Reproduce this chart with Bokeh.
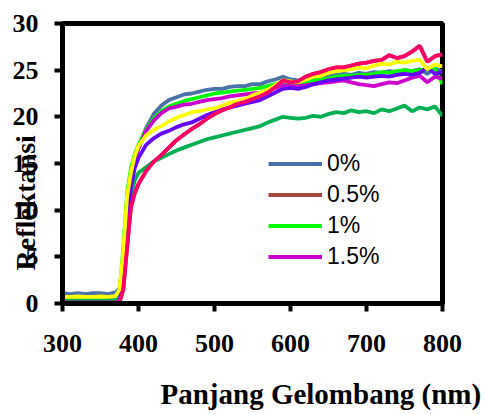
from bokeh.plotting import figure
from bokeh.models import (Legend, LegendItem, Title, FixedTicker, ColumnDataSource,
                          LinearAxis)
from bokeh.embed import file_html
from bokeh.resources import INLINE

wavelength = [300, 310, 320, 330, 340, 350, 360, 370, 375, 380, 385, 390, 395,
              400, 410, 420, 430, 440, 450, 460, 470, 480, 490, 500, 510, 520,
              530, 540, 550, 560, 570, 580, 590, 600, 610, 620, 630, 640, 650,
              660, 670, 680, 690, 700, 710, 720, 730, 740, 750, 760, 770, 780,
              790, 800]

r_0 = [1.1, 1.0, 1.1, 1.0, 1.1, 1.1, 1.0, 1.2, 1.6, 4.5, 10.0, 13.5, 15.5,
       16.8, 18.8, 20.3, 21.2, 21.8, 22.1, 22.4, 22.5, 22.7, 22.9, 23.0, 23.0, 23.2,
       23.3, 23.3, 23.5, 23.5, 23.8, 24.0, 24.3, 24.0, 23.9, 24.0, 24.1, 24.2, 24.4,
       24.5, 24.6, 24.5, 24.7, 24.6, 24.8, 24.7, 24.9, 24.8, 25.0, 24.9, 25.1, 24.6,
       25.2, 24.8]
r_05 = [0.1, 0.1, 0.1, 0.1, 0.1, 0.1, 0.1, 0.1, 0.15, 1.5, 6.0, 10.3, 11.8,
        12.8, 14.2, 15.2, 15.9, 16.7, 17.5, 18.1, 18.7, 19.2, 19.8, 20.3, 20.7, 21.0,
        21.4, 21.6, 21.9, 22.2, 22.6, 23.2, 23.9, 23.7, 23.8, 24.3, 24.6, 24.8, 25.1,
        25.3, 25.3, 25.5, 25.7, 25.8, 26.0, 26.1, 26.6, 26.3, 26.5, 27.0, 27.6, 25.9,
        26.5, 26.7]
r_1 = [0.3, 0.3, 0.35, 0.3, 0.3, 0.35, 0.3, 0.4, 1.2, 6.0, 11.8, 14.5, 16.0,
       17.0, 18.6, 19.8, 20.6, 21.1, 21.4, 21.7, 21.9, 22.1, 22.3, 22.5, 22.6, 22.7,
       22.8, 22.9, 23.0, 23.1, 23.3, 23.5, 23.8, 23.6, 23.5, 23.7, 23.9, 24.0, 24.1,
       24.3, 24.4, 24.4, 24.5, 24.5, 24.6, 24.8, 24.7, 24.9, 25.0, 24.9, 25.0, 25.1,
       25.2, 23.5]
r_15 = [0.15, 0.15, 0.15, 0.15, 0.15, 0.15, 0.15, 0.15, 0.3, 3.0, 9.0, 13.0, 15.3,
        16.6, 18.5, 19.6, 20.4, 20.9, 21.1, 21.3, 21.4, 21.6, 21.8, 21.9, 22.0, 22.2,
        22.3, 22.4, 22.5, 22.6, 22.8, 23.1, 23.4, 23.3, 23.3, 23.4, 23.5, 23.6, 23.7,
        23.8, 23.9, 23.7, 23.5, 23.4, 23.3, 23.5, 23.7, 23.6, 23.9, 24.2, 24.4, 23.7,
        24.3, 24.1]
r_green = [0.4, 0.4, 0.45, 0.4, 0.4, 0.45, 0.4, 0.5, 0.6, 4.0, 8.5, 11.5, 13.2,
           14.0, 14.6, 15.2, 15.6, 16.0, 16.4, 16.7, 17.0, 17.3, 17.6, 17.8, 18.0, 18.2,
           18.4, 18.6, 18.8, 19.0, 19.4, 19.7, 20.0, 19.9, 19.8, 19.9, 20.1, 20.0, 20.3,
           20.5, 20.4, 20.7, 20.5, 20.6, 20.4, 20.8, 20.6, 20.9, 21.2, 20.6, 21.0, 20.8,
           21.1, 20.1]
r_violet = [0.1, 0.1, 0.1, 0.1, 0.1, 0.1, 0.1, 0.1, 0.2, 2.5, 8.5, 12.5, 14.5,
            15.6, 17.0, 17.7, 18.2, 18.5, 18.9, 19.2, 19.4, 19.8, 20.2, 20.5, 20.8, 21.0,
            21.2, 21.4, 21.6, 21.8, 22.2, 22.6, 23.0, 23.1, 23.0, 23.2, 23.5, 23.7, 23.9,
            24.0, 24.1, 24.2, 24.3, 24.2, 24.3, 24.4, 24.3, 24.5, 24.6, 24.5, 24.7, 25.3,
            24.6, 24.8]
r_yellow = [0.7, 0.7, 0.75, 0.7, 0.7, 0.75, 0.7, 0.8, 1.5, 5.5, 11.5, 14.0, 15.8,
            16.9, 18.0, 18.6, 19.0, 19.5, 19.9, 20.2, 20.5, 20.6, 20.8, 20.9, 21.2, 21.5,
            21.7, 21.9, 22.3, 22.6, 22.9, 23.4, 23.9, 23.8, 23.7, 24.0, 24.3, 24.4, 24.7,
            24.9, 25.0, 25.1, 25.3, 25.2, 25.5, 25.7, 25.6, 25.9, 25.8, 26.0, 26.1, 25.1,
            25.6, 25.4]
r_pink = [0.1, 0.1, 0.1, 0.1, 0.1, 0.1, 0.1, 0.1, 0.15, 1.5, 6.0, 10.3, 11.8,
          12.8, 14.2, 15.2, 15.9, 16.7, 17.5, 18.1, 18.7, 19.2, 19.8, 20.3, 20.7, 21.0,
          21.4, 21.6, 21.9, 22.2, 22.6, 23.2, 23.9, 23.7, 23.8, 24.3, 24.6, 24.8, 25.1,
          25.3, 25.3, 25.5, 25.7, 25.8, 26.0, 26.1, 26.6, 26.3, 26.5, 27.0, 27.6, 25.9,
          26.5, 26.7]

legend_labels = ["0%", "0.5%", "1%", "1.5%"]
x_ticks = [300, 400, 500, 600, 700, 800]
y_ticks = [0, 5, 10, 15, 20, 25, 30]

series = [
    (r_0, "#4A72A8"),
    (r_05, "#A84640"),
    (r_1, "#00FF00"),
    (r_15, "#CC00CC"),
    (r_green, "#00B050"),
    (r_violet, "#6600FF"),
    (r_yellow, "#FFFF00"),
    (r_pink, "#FF0066"),
]

p = figure(width=486, height=414, x_range=(300, 800), y_range=(0, 30),
           output_backend="svg", toolbar_location=None,
           min_border_left=62, min_border_right=44, min_border_top=23,
           min_border_bottom=111)
p.grid.visible = False
p.background_fill_color = "white"
p.border_fill_color = "white"
p.outline_line_color = "black"
p.outline_line_width = 5

renderers = []
for vals, col in series:
    src = ColumnDataSource(dict(x=wavelength, y=vals))
    r = p.line("x", "y", source=src, line_color=col, line_width=3.8)
    renderers.append(r)

for ax in (p.xaxis[0], p.yaxis[0]):
    ax.axis_line_width = 5
    ax.axis_line_color = "black"
    ax.major_tick_line_width = 4
    ax.major_tick_line_color = "black"
    ax.major_tick_out = 8
    ax.major_tick_in = 0
    ax.minor_tick_line_color = None
    ax.major_label_text_font = "Liberation Serif"
    ax.major_label_text_font_style = "bold"
    ax.major_label_text_font_size = "26px"
    ax.major_label_text_color = "black"

p.xaxis[0].ticker = FixedTicker(ticks=x_ticks)
p.yaxis[0].ticker = FixedTicker(ticks=y_ticks)
p.xaxis[0].major_label_standoff = 23
p.yaxis[0].major_label_standoff = 16

# y title, pulled in over the tick labels as in the reference
ytitle = Title(text="Reflektansi", align="left", offset=33,
               text_font="Liberation Serif", text_font_style="bold",
               text_font_size="28px", text_color="black", standoff=-63)
p.add_layout(ytitle, "left")

# invisible spacer axis below the x axis (one white tick, empty label), then the x title
spacer = LinearAxis(ticker=FixedTicker(ticks=[550]), axis_line_color=None,
                    major_tick_out=21, major_tick_in=0, major_tick_line_width=1,
                    major_tick_line_color="white", minor_tick_line_color=None,
                    major_label_overrides={550: ""}, major_label_standoff=0,
                    major_label_text_font_size="1px")
p.add_layout(spacer, "below")

xtitle = Title(text="Panjang Gelombang (nm)", align="left", offset=98,
               text_font="Liberation Serif", text_font_style="bold",
               text_font_size="29px", text_color="black", standoff=0)
p.add_layout(xtitle, "below")

legend = Legend(items=[LegendItem(label=legend_labels[i], renderers=[renderers[i]])
                       for i in range(4)],
                location=(206, 31), orientation="vertical",
                glyph_width=54, glyph_height=31, label_height=31,
                label_standoff=5, spacing=0, padding=0, margin=0,
                border_line_color=None, background_fill_alpha=0,
                label_text_font="Liberation Sans", label_text_font_size="23px",
                label_text_color="black")
p.add_layout(legend)

open("out.html", "w").write(file_html(p, INLINE))
